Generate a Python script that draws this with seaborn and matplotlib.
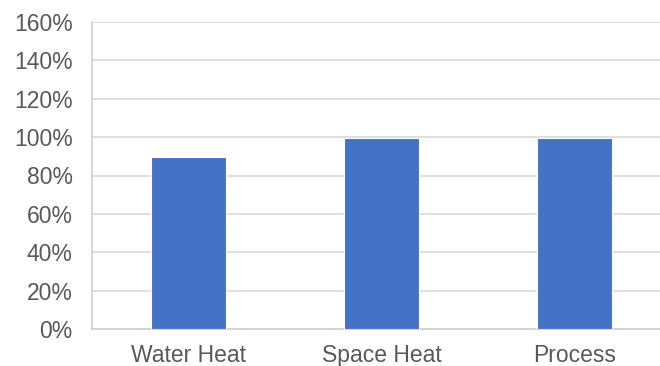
import matplotlib
matplotlib.use("Agg")
import matplotlib.pyplot as plt
import seaborn as sns
import pandas as pd
from matplotlib.ticker import FixedLocator, PercentFormatter

categories = ["Water Heat", "Space Heat", "Process"]
values = [89.5, 99.5, 99.5]

sns.set_style("white")
plt.rcParams['font.family'] = ['Liberation Sans', 'DejaVu Sans']

df = pd.DataFrame({"cat": categories, "val": values})

fig = plt.figure(figsize=(6.6, 3.66), dpi=100)
ax = fig.add_axes([92 / 660, 1 - 329 / 366, (671 - 92) / 660, (329 - 22) / 366])

sns.barplot(data=df, x="cat", y="val", color="#4472C4", saturation=1,
            width=0.385, edgecolor="white", linewidth=0.8, ax=ax, zorder=3)

ax.set_xlim(-0.5, 2.5)
ax.set_ylim(0, 160)
ax.set_yticks(range(0, 161, 20))
ax.yaxis.set_major_formatter(PercentFormatter(decimals=0))
ax.grid(axis="y", color="#D9D9D9", linewidth=1.2, zorder=0)
ax.set_axisbelow(True)

ax.set_xlabel("")
ax.set_ylabel("")
ax.tick_params(axis="y", length=0, pad=14, labelsize=16.5, labelcolor="#595959")
ax.tick_params(axis="x", which="major", length=0, pad=11, labelsize=16.5, labelcolor="#595959")
ax.xaxis.set_minor_locator(FixedLocator([-0.5, 0.5, 1.5, 2.5]))
ax.tick_params(axis="x", which="minor", length=6, width=1, color="#D9D9D9", direction="out")

for side in ["top", "right"]:
    ax.spines[side].set_visible(False)
for side in ["left", "bottom"]:
    ax.spines[side].set_color("#D0D0D0")
    ax.spines[side].set_linewidth(1.2)

fig.savefig("out.png", dpi=100)
